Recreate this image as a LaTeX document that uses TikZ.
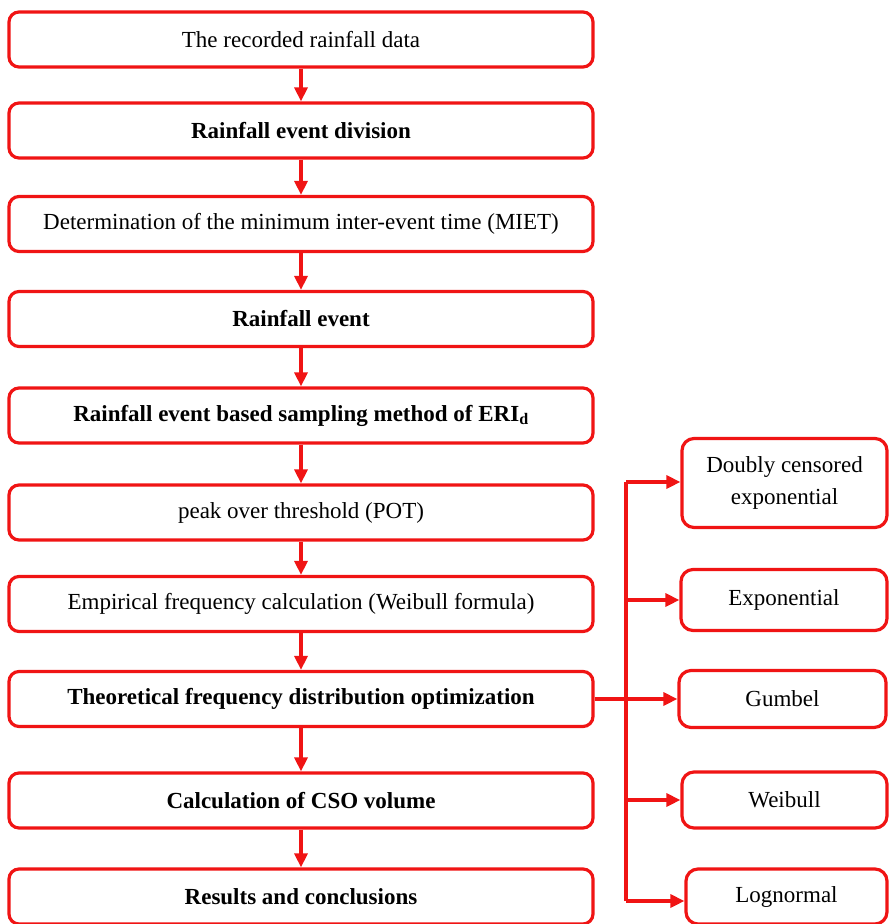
\documentclass[tikz,border=0pt]{standalone}
\usepackage{fontspec}
\setmainfont{Liberation Serif}
\usetikzlibrary{arrows.meta}
\definecolor{boxred}{RGB}{240,20,20}
\begin{document}
\begin{tikzpicture}[x=1pt,y=-1pt,
  box/.style={draw=boxred,line width=3.2pt,rounded corners=10pt,fill=white,
    minimum width=584pt,minimum height=55pt,inner sep=2pt,
    font=\fontsize{23}{27}\selectfont,align=center},
  rbox/.style={draw=boxred,line width=3.2pt,rounded corners=12pt,fill=white,
    minimum width=205pt,inner sep=2pt,
    font=\fontsize{23}{32}\selectfont,align=center},
  arr/.style={draw=boxred,line width=3.2pt,-{Triangle[length=14pt,width=13pt]}},
  ln/.style={draw=boxred,line width=3.2pt}]
\useasboundingbox (0,0) rectangle (889,924);
\node[box] (b1) at (301,39.5) {The recorded rainfall data};
\node[box] (b2) at (301,130.5) {\bfseries Rainfall event division};
\node[box] (b3) at (301,224) {Determination of the minimum inter-event time (MIET)};
\node[box] (b4) at (301,319) {\bfseries Rainfall event};
\node[box] (b5) at (301,415.5) {\bfseries Rainfall event based sampling method of ERI\textsubscript{d}};
\node[box] (b6) at (301,512.5) {peak over threshold (POT)};
\node[box] (b7) at (301,604) {Empirical frequency calculation (Weibull formula)};
\node[box] (b8) at (301,699) {\bfseries Theoretical frequency distribution optimization};
\node[box] (b9) at (301,800.5) {\bfseries Calculation of CSO volume};
\node[box] (b10) at (301,896.5) {\bfseries Results and conclusions};
\foreach \a/\b in {b1/b2,b2/b3,b3/b4,b4/b5,b5/b6,b6/b7,b7/b8,b8/b9,b9/b10}
  \draw[arr] (\a.south) -- (\b.north);
\node[rbox,minimum height=89pt,minimum width=205pt] (dce) at (784.5,483) {Doubly censored\\exponential};
\node[rbox,minimum height=61pt,minimum width=206pt] (expo) at (784,600) {Exponential};
\node[rbox,minimum height=57pt,minimum width=207pt] (gum) at (782.5,699) {Gumbel};
\node[rbox,minimum height=56pt,minimum width=205pt] (wei) at (784.5,800) {Weibull};
\node[rbox,minimum height=55pt,minimum width=201pt] (logn) at (786.5,896.5) {Lognormal};
\coordinate (bt) at (626,482);
\coordinate (bb) at (626,901);
\draw[ln] (bb) -- (bt);
\draw[arr] (bt) -- (bt -| dce.west);
\draw[arr] (626,600) -- (expo.west);
\draw[arr] (b8.east) -- (gum.west);
\draw[arr] (626,800) -- (wei.west);
\draw[arr] (bb) -- (bb -| logn.west);
\end{tikzpicture}
\end{document}
